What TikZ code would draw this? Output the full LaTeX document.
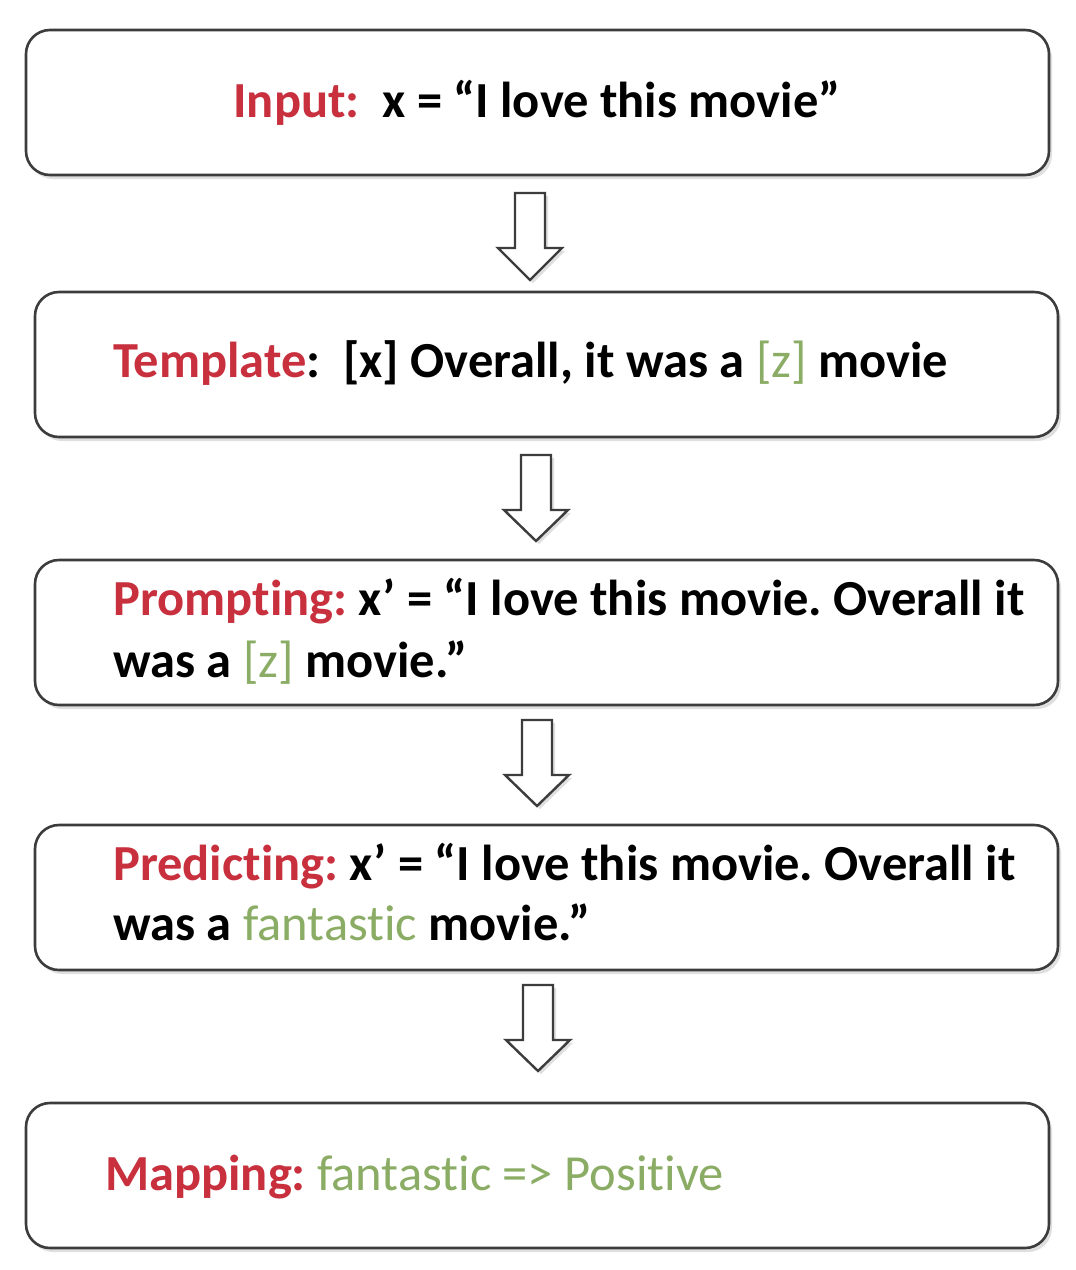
\documentclass[tikz,border=0pt]{standalone}
\usepackage{fontspec}
\setmainfont[Ligatures={NoCommon,NoDiscretionary,NoContextual}]{Carlito}
\usetikzlibrary{shadows}
\definecolor{lblred}{RGB}{200,48,62}
\definecolor{lblgreen}{RGB}{138,172,100}
\definecolor{edge}{RGB}{60,60,60}
\newcommand{\rd}[1]{\textcolor{lblred}{\bfseries #1}}
\newcommand{\gr}[1]{\textcolor{lblgreen}{\mdseries #1}}
\frenchspacing
\begin{document}
\begin{tikzpicture}[x=1pt,y=-1pt,
  box/.style={draw=edge,line width=2.6pt,rounded corners=24pt,fill=white,
    minimum width=1023pt,minimum height=145pt,inner sep=0pt,
    drop shadow={opacity=0.25,shadow xshift=3pt,shadow yshift=-4pt}},
  txt/.style={anchor=base west,inner sep=0pt,font=\fontsize{50.5}{62}\selectfont\bfseries},
  harrow/.style={draw=edge,line width=2.4pt,fill=white,line join=miter,
    drop shadow={opacity=0.25,shadow xshift=3pt,shadow yshift=-3pt}}]
\useasboundingbox (0,0) rectangle (1076,1270);
\fill[white] (0,0) rectangle (1076,1270);
% boxes
\node[box] (b1) at (537.5,102.5) {};
\node[box] (b2) at (546.5,364.5) {};
\node[box] (b3) at (546.5,632.5) {};
\node[box] (b4) at (546.5,897.5) {};
\node[box] (b5) at (537.5,1175.5) {};
% texts
\node[txt,anchor=base] (t1) at (537,117) {\rd{Input:}\ \ x = “I love this movie”};
\node[txt] (t2) at (113,377) {\rd{Template}:\ \ [x] Overall, it was a \gr{[z]} movie};
\node[txt] (t3a) at (113,615) {\rd{Prompting:} x’ = “I love this movie. Overall it};
\node[txt] (t3b) at (113,677) {was a \gr{[z]} movie.”};
\node[txt] (t4a) at (113,880) {\rd{Predicting:} x’ = “I love this movie. Overall it};
\node[txt] (t4b) at (113,940) {was a \gr{fantastic} movie.”};
\node[txt] (t5) at (105,1190) {\rd{Mapping:} \gr{fantastic => Positive}};
% hollow arrows
\newcommand{\hollowarrow}[3]{%
  \draw[harrow] (#1-15,#2) -- (#1+15,#2) -- (#1+15,#2+55) -- (#1+32,#2+55)
    -- (#1,#3) -- (#1-32,#2+55) -- (#1-15,#2+55) -- cycle;}
\hollowarrow{530}{193}{280}
\hollowarrow{536}{455}{541}
\hollowarrow{537}{720}{806}
\hollowarrow{538}{985}{1071}
\end{tikzpicture}
\end{document}
